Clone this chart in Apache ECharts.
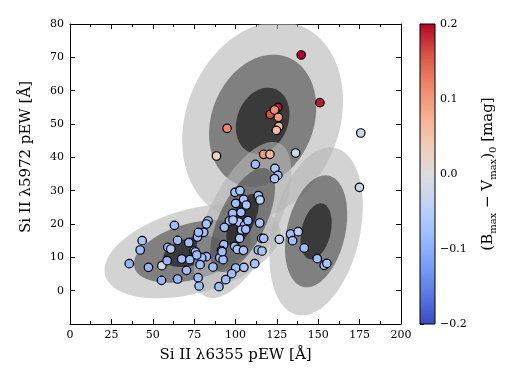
<!DOCTYPE html>
<html>
<head>
<meta charset="utf-8">
<script src="https://cdn.jsdelivr.net/npm/echarts@6/dist/echarts.min.js"></script>
<style>
  html, body { margin: 0; padding: 0; background: #fff; }
  #main { width: 520px; height: 390px; }
</style>
</head>
<body>
<div id="main"></div>
<script>
// gaussian components (data units): centre, sigma, correlation
var compX = [116.4, 74.0, 104.3, 148.7];
var compY = [51.0, 11.8, 21.2, 17.8];
var compSx = [16.2, 17.7, 9.8, 9.4];
var compSy = [9.9, 4.7, 7.8, 8.4];
var compRho = [0.2, 0.4, 0.62, 0.3];
var sigmaLevels = [3, 2, 1];

// points: Si II 6355 pEW, Si II 5972 pEW, (B-V)0
var pewX = [139.7, 151.0, 125.6, 121.0, 123.6, 125.9, 126.2, 124.7, 94.9, 88.5,
  117.0, 120.8, 136.3, 175.7, 112.0, 123.8, 125.6, 123.6, 174.9,
  99.7, 102.7, 104.9, 106.6, 100.1, 113.8, 114.8, 98.3, 103.3, 96.3,
  101.9, 105.5, 107.5, 114.6, 93.3, 103.6, 115.8, 117.0, 126.5, 102.5,
  99.5, 101.1, 104.8, 92.9, 91.5, 113.8, 116.0, 90.5, 92.5, 82.4,
  79.6, 86.4, 100.1, 105.1, 111.6, 97.7, 94.1, 90.0, 78.0, 77.4,
  83.4, 82.4, 106.2, 98.5,
  133.3, 137.9, 134.5, 141.5, 149.4, 153.6, 155.2,
  80.8, 77.0, 77.6, 63.1, 43.6, 42.4, 35.8, 47.4, 55.5, 55.3,
  65.0, 58.7, 59.1, 60.9, 65.0, 67.5, 70.4, 71.8, 72.4, 75.0,
  75.8, 76.6, 78.6, 91.9];
var pewY = [70.7, 56.4, 55.0, 52.9, 54.2, 52.0, 49.3, 48.1, 48.7, 40.4,
  40.9, 40.9, 41.3, 47.3, 37.9, 36.7, 34.6, 33.6, 31.0,
  29.5, 30.0, 27.4, 25.7, 26.2, 28.5, 27.2, 23.2, 23.5, 20.9,
  20.6, 19.6, 21.0, 20.3, 19.0, 18.2, 15.7, 15.7, 15.4, 15.7,
  13.3, 12.4, 12.1, 13.8, 12.0, 12.2, 11.9, 9.9, 9.3, 10.2,
  9.9, 7.1, 6.8, 7.0, 8.1, 5.1, 3.3, 1.2, 1.4, 3.9,
  20.9, 20.0, 18.4, 21.2,
  17.0, 17.7, 15.0, 12.8, 9.6, 7.6, 8.2,
  17.5, 16.1, 17.5, 19.6, 15.0, 12.2, 8.1, 7.0, 7.5, 3.1,
  3.5, 9.0, 13.0, 12.5, 15.1, 9.5, 6.1, 14.4, 9.3, 11.9,
  11.6, 10.7, 7.8, 11.7];
var colorBV = [0.2, 0.19, 0.19, 0.16, 0.11, 0.1, 0.07, 0.06, 0.12, 0.03,
  0.1, 0.07, -0.02, -0.02, -0.08, -0.06, -0.08, -0.07, -0.02,
  -0.08, -0.07, -0.07, -0.07, -0.08, -0.07, -0.05, -0.08, -0.08, -0.08,
  -0.07, -0.08, -0.08, -0.07, -0.08, -0.08, -0.08, -0.07, -0.03, -0.06,
  -0.08, -0.07, -0.07, -0.08, -0.08, -0.08, -0.07, -0.08, -0.08, -0.08,
  -0.08, -0.08, -0.08, -0.07, -0.07, -0.08, -0.08, -0.08, -0.08, -0.08,
  -0.08, -0.07, -0.08, -0.07,
  -0.08, -0.05, -0.08, -0.08, -0.08, -0.07, -0.07,
  -0.08, -0.08, -0.08, -0.08, -0.07, -0.08, -0.09, -0.09, -0.02, -0.09,
  -0.09, -0.09, -0.08, -0.06, -0.08, -0.08, -0.08, -0.08, -0.08, -0.08,
  -0.07, -0.08, -0.08, -0.08];

var cbMin = -0.2, cbMax = 0.2;
// coolwarm
var coolwarm = ['#3b4cc0', '#5a78e4', '#7b9ff9', '#9ebeff', '#c0d4f5', '#dddcdc',
  '#f2cbb7', '#f7ac8e', '#ee8468', '#d65244', '#b40426'];

var levelFill = {
  3: 'rgba(181,181,181,0.6)',
  2: 'rgba(73,73,73,0.6)',
  1: 'rgba(11,11,11,0.6)'
};

var FONT = 'DejaVu Serif';

var points = [];
for (var i = 0; i < pewX.length; i++) {
  points.push([pewX[i], pewY[i], colorBV[i]]);
}

var ellData = [];
for (var k = 0; k < compX.length; k++) {
  sigmaLevels.forEach(function (n) { ellData.push([k, n]); });
}

var myChart = echarts.init(document.getElementById('main'));

var tickStyle = { show: true, inside: true, length: 5, lineStyle: { color: '#000', width: 1 } };
var minorStyle = { show: true, splitNumber: 2, length: 3, lineStyle: { color: '#000', width: 1 } };

var option = {
  animation: false,
  backgroundColor: '#fff',
  textStyle: { fontFamily: FONT },
  grid: [
    { left: 70, right: 119, top: 24, bottom: 66 },
    { left: 420, width: 15, top: 24, bottom: 66 }
  ],
  xAxis: [
    {
      gridIndex: 0, type: 'value', min: 0, max: 200, interval: 25, position: 'bottom',
      name: 'Si II \u03bb6355 pEW [\u00c5]', nameLocation: 'middle', nameGap: 24,
      nameTextStyle: { fontFamily: FONT, fontSize: 15, color: '#000' },
      axisLine: { show: true, onZero: false, lineStyle: { color: '#000', width: 1 } },
      axisTick: tickStyle, minorTick: minorStyle,
      axisLabel: { fontFamily: FONT, fontSize: 11, color: '#000', margin: 6 },
      splitLine: { show: false }
    },
    {
      gridIndex: 0, type: 'value', min: 0, max: 200, interval: 25, position: 'top',
      axisLine: { show: true, onZero: false, lineStyle: { color: '#000', width: 1 } },
      axisTick: tickStyle, minorTick: minorStyle,
      axisLabel: { show: false }, splitLine: { show: false }
    },
    {
      gridIndex: 1, type: 'value', min: 0, max: 1, show: false
    }
  ],
  yAxis: [
    {
      gridIndex: 0, type: 'value', min: -10, max: 80, interval: 10, position: 'left',
      name: 'Si II \u03bb5972 pEW [\u00c5]', nameLocation: 'middle', nameGap: 36, nameRotate: 90,
      nameTextStyle: { fontFamily: FONT, fontSize: 15, color: '#000', padding: [0, 0, 0, 34] },
      axisLine: { show: true, onZero: false, lineStyle: { color: '#000', width: 1 } },
      axisTick: tickStyle,
      axisLabel: {
        fontFamily: FONT, fontSize: 11, color: '#000', margin: 6,
        formatter: function (v) { return v < 0 ? '' : String(v); }
      },
      splitLine: { show: false }
    },
    {
      gridIndex: 0, type: 'value', min: -10, max: 80, interval: 10, position: 'right',
      axisLine: { show: true, onZero: false, lineStyle: { color: '#000', width: 1 } },
      axisTick: tickStyle,
      axisLabel: { show: false }, splitLine: { show: false }
    },
    {
      gridIndex: 1, type: 'value', min: cbMin, max: cbMax, interval: 0.1, position: 'right',
      name: '(B{sub|max} \u2212 V{sub|max}){sub|0} [mag]', nameLocation: 'middle', nameGap: 44, nameRotate: 90,
      nameTextStyle: {
        fontFamily: FONT, fontSize: 15, color: '#000',
        rich: { sub: { fontFamily: FONT, fontSize: 10, color: '#000', padding: [9, 0, 0, 0] } }
      },
      axisLine: { show: false },
      axisTick: { show: true, inside: false, length: 4, lineStyle: { color: '#000', width: 1 } },
      axisLabel: {
        fontFamily: FONT, fontSize: 11, color: '#000', margin: 5,
        formatter: function (v) { return (v < -1e-9 ? '\u2212' : '') + Math.abs(v).toFixed(1); }
      },
      splitLine: { show: false }
    }
  ],
  visualMap: {
    type: 'continuous', show: false, min: cbMin, max: cbMax, dimension: 2, seriesIndex: 1,
    inRange: { color: coolwarm }
  },
  series: [
    {
      // n-sigma ellipses of each component
      type: 'custom', xAxisIndex: 0, yAxisIndex: 0, clip: true, silent: true, z: 1,
      data: ellData,
      renderItem: function (params, api) {
        var k = api.value(0), n = api.value(1);
        var r = compRho[k], q = Math.sqrt(1 - r * r);
        var pts = [];
        for (var s = 0; s < 120; s++) {
          var t = s / 120 * Math.PI * 2;
          var c = Math.cos(t), sn = Math.sin(t);
          pts.push(api.coord([
            compX[k] + n * compSx[k] * c,
            compY[k] + n * compSy[k] * (r * c + q * sn)
          ]));
        }
        return { type: 'polygon', shape: { points: pts }, style: { fill: levelFill[n], stroke: null } };
      }
    },
    {
      type: 'scatter', xAxisIndex: 0, yAxisIndex: 0, z: 5,
      symbol: 'circle', symbolSize: 8.5,
      itemStyle: { borderColor: '#000', borderWidth: 1.2, opacity: 1 },
      data: points
    },
    {
      // colour bar
      type: 'custom', xAxisIndex: 2, yAxisIndex: 2, silent: true,
      data: [[0]],
      renderItem: function (params, api) {
        var p0 = api.coord([0, cbMax]);
        var p1 = api.coord([1, cbMin]);
        var stops = coolwarm.map(function (c, i) {
          return { offset: i / (coolwarm.length - 1), color: c };
        });
        return {
          type: 'rect',
          shape: { x: p0[0], y: p0[1], width: p1[0] - p0[0], height: p1[1] - p0[1] },
          style: { fill: new echarts.graphic.LinearGradient(0, 1, 0, 0, stops), stroke: '#000', lineWidth: 1 }
        };
      }
    }
  ]
};

myChart.setOption(option);
</script>
</body>
</html>
